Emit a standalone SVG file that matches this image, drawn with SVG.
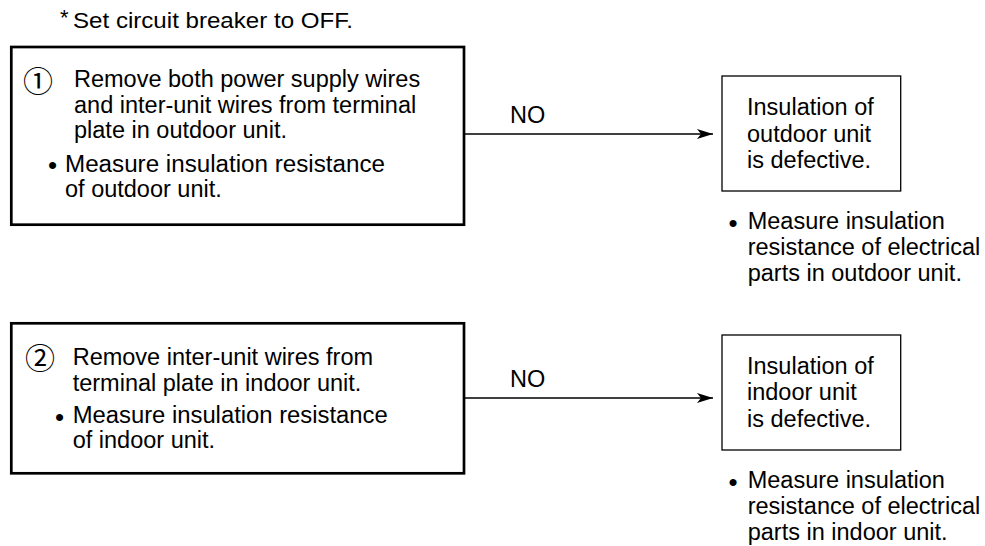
<svg xmlns="http://www.w3.org/2000/svg" width="985" height="546" viewBox="0 0 985 546">
<style>
  text { font-family: "Liberation Sans", Arial, Helvetica, sans-serif; font-size: 23.5px; fill: #000; }
  .note { font-size: 22px; }
  .bul { font-size: 26px; }
  .num { font-family: "Noto Sans CJK JP", "Liberation Sans", sans-serif; font-size: 30px; text-anchor: middle; }
  .big { fill: #fff; stroke: #000; stroke-width: 2.7; }
  .small { fill: #fff; stroke: #000; stroke-width: 1.3; }
  .conn { stroke: #000; stroke-width: 1.3; fill: none; }
</style>
<defs>
  <marker id="arrow" markerUnits="userSpaceOnUse" viewBox="0 0 16 10" refX="16" refY="5" markerWidth="16" markerHeight="10" orient="auto">
    <path d="M0,0 L16,5 L0,10 L4,5 Z" fill="#000"/>
  </marker>
</defs>
<rect width="985" height="546" fill="#fff"/>

<g id="note">
  <text x="60" y="25" class="note">*</text>
  <text x="73" y="28" class="note" textLength="280" lengthAdjust="spacingAndGlyphs">Set circuit breaker to OFF.</text>
</g>

<g id="step1">
  <rect class="big" x="11.3" y="47" width="452.7" height="177.7"/>
  <text class="num" x="38" y="92">①</text>
  <text x="74" y="87">Remove both power supply wires</text>
  <text x="74" y="113">and inter-unit wires from terminal</text>
  <text x="74" y="137.5">plate in outdoor unit.</text>
  <text class="bul" x="48" y="174">•</text>
  <text x="65" y="171.5" textLength="320" lengthAdjust="spacingAndGlyphs">Measure insulation resistance</text>
  <text x="65" y="197">of outdoor unit.</text>
</g>

<g id="result1">
  <rect class="small" x="722" y="76" width="178.7" height="115"/>
  <text x="747" y="115">Insulation of</text>
  <text x="747" y="141.5">outdoor unit</text>
  <text x="747" y="168">is defective.</text>
</g>

<g id="action1">
  <text class="bul" x="728.5" y="232">•</text>
  <text x="747.7" y="229.3">Measure insulation</text>
  <text x="747.7" y="255">resistance of electrical</text>
  <text x="747.7" y="280.5">parts in outdoor unit.</text>
</g>

<g id="step2">
  <rect class="big" x="11.3" y="323.3" width="452.7" height="150"/>
  <text class="num" x="40" y="368.5">②</text>
  <text x="72.7" y="365">Remove inter-unit wires from</text>
  <text x="72.7" y="390.7">terminal plate in indoor unit.</text>
  <text class="bul" x="55" y="425.5">•</text>
  <text x="72.7" y="423" textLength="315" lengthAdjust="spacingAndGlyphs">Measure insulation resistance</text>
  <text x="72.7" y="448">of indoor unit.</text>
</g>

<g id="result2">
  <rect class="small" x="722" y="335" width="178.7" height="115"/>
  <text x="747" y="373.5">Insulation of</text>
  <text x="747" y="400">indoor unit</text>
  <text x="747" y="426.5">is defective.</text>
</g>

<g id="action2">
  <text class="bul" x="728.5" y="491">•</text>
  <text x="747.7" y="488.3">Measure insulation</text>
  <text x="747.7" y="514">resistance of electrical</text>
  <text x="747.7" y="539.5">parts in indoor unit.</text>
</g>

<g id="connectors">
  <line class="conn" x1="464" y1="134" x2="713" y2="134" marker-end="url(#arrow)"/>
  <text x="510" y="123">NO</text>
  <line class="conn" x1="464" y1="398" x2="713" y2="398" marker-end="url(#arrow)"/>
  <text x="510" y="387">NO</text>
</g>
</svg>
